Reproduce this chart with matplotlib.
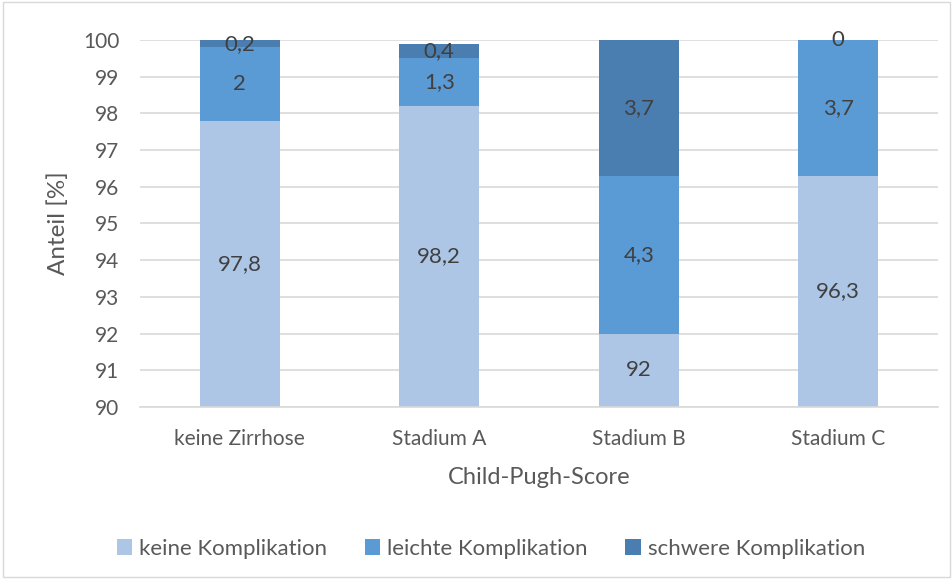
import matplotlib.pyplot as plt
from matplotlib.patches import Rectangle

# data
categories = ['keine Zirrhose', 'Stadium A', 'Stadium B', 'Stadium C']
keine = [97.8, 98.2, 92, 96.3]
leichte = [2, 1.3, 4.3, 3.7]
schwere = [0.2, 0.4, 3.7, 0]
series_names = ['keine Komplikation', 'leichte Komplikation', 'schwere Komplikation']
colors = ['#adc6e6', '#5b9bd5', '#4a7eb0']

plt.rcParams['font.family'] = ['Lato', 'DejaVu Sans']
txt = '#595959'
lbl = '#404040'

fig = plt.figure(figsize=(9.53, 5.79), dpi=100)
ax = fig.add_axes([140 / 953, 1 - 407 / 579, 798 / 953, 367 / 579])

ymin = 90
x = list(range(len(categories)))
bottoms = [0] * len(categories)
for vals, name, col in zip([keine, leichte, schwere], series_names, colors):
    ax.bar(x, vals, bottom=bottoms, width=0.4, color=col, label=name, zorder=2)
    # value labels in the middle of the visible part of each segment
    for i, v in enumerate(vals):
        lo = max(bottoms[i], ymin)
        hi = bottoms[i] + v
        s = f'{v:g}'.replace('.', ',')
        ax.text(i, (lo + hi) / 2, s, ha='center', va='center', fontsize=16, color=lbl, zorder=3)
    bottoms = [b + v for b, v in zip(bottoms, vals)]

ax.set_ylim(90, 100)
ax.set_xlim(-0.5, 3.5)
ax.set_yticks(range(90, 101))
ax.set_xticks(x)
ax.set_xticklabels(categories)
ax.grid(axis='y', color='#d9d9d9', linewidth=1.2, zorder=0)
for sp in ['top', 'right', 'left']:
    ax.spines[sp].set_visible(False)
ax.spines['bottom'].set_color('#d9d9d9')
ax.spines['bottom'].set_linewidth(1.2)
ax.tick_params(length=0, labelsize=15, colors=txt, pad=15)
ax.tick_params(axis='x', pad=16)
ax.set_ylabel('Anteil [%]', fontsize=17.5, color=txt, labelpad=10)
ax.set_xlabel('Child-Pugh-Score', fontsize=17, color=txt, labelpad=13)

fig.legend(loc='center', bbox_to_anchor=(0.515, 1 - 549 / 579), ncol=3, frameon=False,
           fontsize=16, labelcolor=txt, handlelength=0.7, handleheight=0.7,
           handletextpad=0.3, columnspacing=1.7)

fig.patches.append(Rectangle((0.003, 0.003), 0.994, 0.994, transform=fig.transFigure,
                             fill=False, edgecolor='#d9d9d9', linewidth=1))

fig.savefig('out.png', dpi=100)
